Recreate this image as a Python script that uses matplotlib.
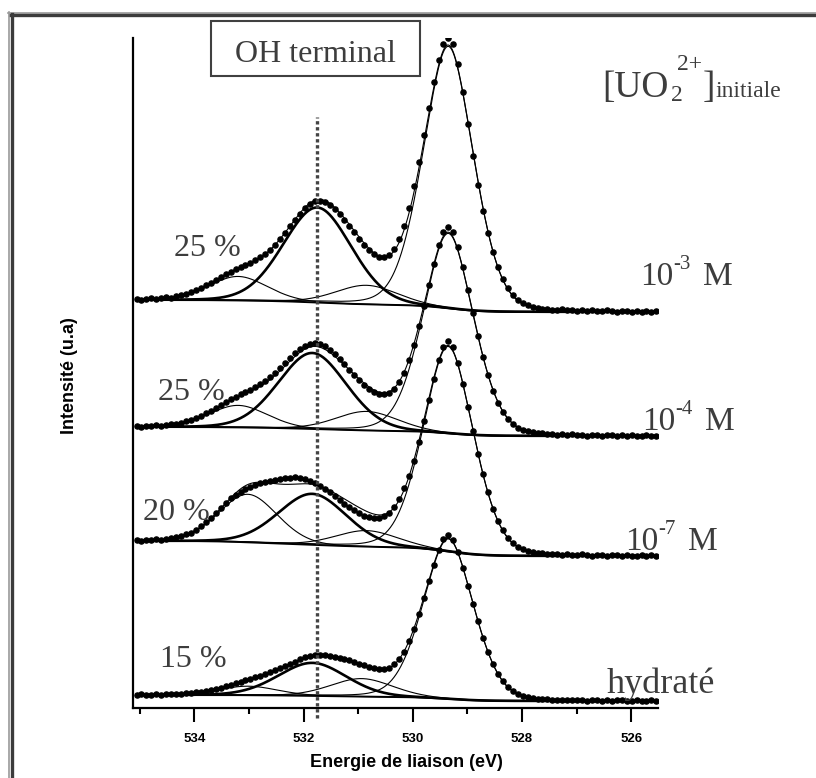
import numpy as np
import matplotlib

matplotlib.use("Agg")
import matplotlib.pyplot as plt
from matplotlib.lines import Line2D
from matplotlib.patches import Rectangle

W, H = 816, 778
SERIF = "Liberation Serif"
SANS = "Liberation Sans"
TEXT_GREY = "#3d3d3d"

# O 1s spectra, from top to bottom: (mantissa, exponent, unit)
SAMPLES = [("10", "-3", "M"), ("10", "-4", "M"), ("10", "-7", "M"), ("hydraté", "", "")]
OH_SHARE = ["25 %", "25 %", "20 %", "15 %"]

# binding energy of the measured points (eV)
ENERGY = np.linspace(535.06, 525.54, 106)

COUNTS_1E3 = [
    13, 12, 13, 14, 13, 14, 15, 14, 16, 17,
    18, 20, 22, 24, 27, 29, 32, 35, 38, 40,
    43, 45, 47, 49, 52, 55, 58, 62, 67, 73,
    79, 86, 92, 98, 104, 108, 111, 111, 110, 107,
    103, 98, 92, 86, 80, 73, 67, 62, 58, 55,
    55, 57, 63, 73, 86, 104, 126, 150, 177, 204,
    230, 252, 268, 274, 268, 248, 220, 188, 156, 127,
    101, 79, 60, 45, 33, 24, 17, 12, 9, 7,
    5, 4, 3, 3, 2, 2, 3, 2, 2, 1,
    2, 1, 2, 1, 1, 2, 1, 0, 1, 1,
    0, 1, 0, 1, 0, 1,
]
COUNTS_1E4 = [
    10, 9, 10, 10, 11, 10, 11, 12, 12, 13,
    15, 16, 18, 20, 23, 25, 28, 31, 34, 37,
    39, 42, 44, 46, 49, 52, 55, 59, 63, 68,
    73, 78, 83, 87, 90, 92, 93, 92, 90, 86,
    82, 77, 72, 66, 61, 56, 51, 47, 44, 42,
    42, 43, 47, 54, 63, 76, 91, 110, 130, 151,
    172, 191, 204, 209, 204, 189, 169, 146, 123, 100,
    79, 61, 45, 33, 24, 17, 12, 8, 6, 5,
    4, 3, 3, 2, 2, 1, 2, 1, 2, 1,
    1, 0, 1, 1, 0, 1, 1, 0, 1, 0,
    1, 0, 0, 1, 0, 0,
]
COUNTS_1E7 = [
    16, 15, 16, 16, 17, 16, 17, 18, 19, 20,
    22, 23, 26, 30, 34, 38, 43, 48, 53, 58,
    61, 64, 67, 69, 71, 73, 74, 75, 76, 77,
    78, 78, 79, 78, 77, 75, 73, 70, 67, 64,
    60, 56, 52, 49, 46, 43, 40, 39, 38, 38,
    40, 43, 49, 57, 68, 80, 95, 114, 135, 156,
    177, 196, 209, 215, 209, 193, 172, 149, 125, 102,
    82, 64, 47, 35, 26, 18, 13, 9, 7, 5,
    4, 3, 3, 2, 2, 2, 1, 2, 1, 1,
    2, 1, 0, 1, 1, 0, 1, 1, 0, 1,
    0, 0, 1, 0, 1, 0,
]
COUNTS_HYD = [
    6, 7, 6, 6, 7, 6, 7, 7, 7, 7,
    8, 8, 9, 9, 10, 11, 12, 13, 15, 16,
    18, 19, 21, 22, 24, 25, 27, 29, 31, 33,
    35, 37, 39, 42, 44, 45, 46, 46, 46, 45,
    44, 43, 42, 41, 39, 37, 36, 34, 33, 32,
    32, 33, 37, 42, 49, 60, 72, 87, 103, 120,
    136, 151, 162, 166, 161, 149, 133, 115, 97, 80,
    63, 49, 37, 27, 20, 14, 10, 7, 5, 4,
    3, 2, 2, 2, 1, 1, 1, 1, 1, 1,
    1, 0, 1, 1, 0, 1, 0, 1, 1, 0,
    0, 1, 0, 0, 1, 0,
]
COUNTS = [COUNTS_1E3, COUNTS_1E4, COUNTS_1E7, COUNTS_HYD]

# fitted components: (centre eV, height, fwhm eV)
LATTICE_O = [(529.35, 262, 1.133), (529.35, 200, 1.133),
             (529.35, 205, 1.133), (529.35, 160, 1.133)]
OH_TERMINAL = [(531.75, 95, 1.505), (531.84, 76, 1.505),
               (531.84, 51, 1.505), (531.84, 33, 1.505)]
HIGH_BE = [(533.20, 24, 1.287), (533.20, 22, 1.287),
           (533.02, 48, 1.287), (533.02, 9, 1.287)]
MID_BE = [(530.85, 19, 1.36), (530.85, 19, 1.36),
          (530.85, 16, 1.36), (530.94, 18, 1.36)]
BACKGROUND_STEP = [12, 9, 15, 6]
STACK_OFFSET = [396, 272, 152, 7]
OH_MARK = 531.75


def peak(e, centre, height, fwhm, mix=0.1):
    x = (e - centre) / fwhm
    gauss = np.exp(-4 * np.log(2) * x ** 2)
    lorentz = 1 / (1 + 7.7 * x ** 2)
    return height * ((1 - mix) * gauss + mix * lorentz)


def shirley(signal, step):
    area = np.cumsum(signal[::-1])[::-1]
    return step * area / area[0]


def put(x, y, s, size, **kw):
    # place text with pixel coordinates (y measured from the top)
    fig.text(x / W, 1 - y / H, s, fontsize=size, family=kw.pop("family", SERIF),
             color=kw.pop("color", TEXT_GREY), ha=kw.pop("ha", "left"),
             va=kw.pop("va", "baseline"), **kw)


fig = plt.figure(figsize=(W / 100, H / 100), dpi=100)
ax = fig.add_axes([133 / W, 1 - 708 / H, 525 / W, 670 / H])

fine = np.linspace(ENERGY[0], ENERGY[-1], 900)
for i in range(len(SAMPLES)):
    lattice = peak(fine, *LATTICE_O[i], mix=0.2)
    oh = peak(fine, *OH_TERMINAL[i])
    high = peak(fine, *HIGH_BE[i])
    mid = peak(fine, *MID_BE[i])
    total = lattice + oh + high + mid
    bg = STACK_OFFSET[i] + shirley(total, BACKGROUND_STEP[i])

    ax.plot(fine, bg, color="black", lw=1.4)
    for comp in (lattice, high, mid, total):
        ax.plot(fine, bg + comp, color="black", lw=0.8)
    ax.plot(fine, bg + oh, color="black", lw=1.9)
    ax.plot(ENERGY, STACK_OFFSET[i] + np.array(COUNTS[i]), "o",
            color="black", ms=3.7, mec="black", zorder=3)

ax.axvline(OH_MARK, ymin=-0.015, ymax=0.882, color="#444444", lw=2.4,
           linestyle=(0, (1, 0.8)), clip_on=False, zorder=4)

ax.set_xlim(535.125, 525.51)
ax.set_ylim(0, 670)
ax.set_xticks([534, 532, 530, 528, 526])
ax.set_xticks([535, 533, 531, 529, 527], minor=True)
ax.set_yticks([])
for side in ("top", "right"):
    ax.spines[side].set_visible(False)
for side in ("left", "bottom"):
    ax.spines[side].set_linewidth(1.6)
ax.tick_params(axis="x", which="major", direction="out", length=10,
               width=1.5, pad=8, labelsize=9.5)
ax.tick_params(axis="x", which="minor", direction="out", length=4.5,
               width=1.5)
for lab in ax.get_xticklabels():
    lab.set_fontfamily(SANS)
    lab.set_fontweight("bold")

put(406, 767, "Energie de liaison (eV)", 13, ha="center", family=SANS,
    color="black", fontweight="bold")
put(70, 376, "Intensité (u.a)", 13, ha="center", va="center", family=SANS,
    color="black", fontweight="bold", rotation=90)

# OH terminal box
fig.add_artist(Rectangle((211 / W, 1 - 76 / H), 209 / W, 55 / H,
                         transform=fig.transFigure, fill=False,
                         edgecolor="#404040", lw=1.5))
put(315.5, 62, "OH terminal", 23, ha="center")

# [UO2 2+] initiale
put(602, 97, "[UO", 27)
put(671, 101, "2", 17)
put(677, 70, "2+", 17)
put(703, 97, "]", 27)
put(715, 97, "initiale", 17)

sample_pos = [(640, 285), (642, 430), (625, 550), (607, 693)]
share_pos = [(174, 256), (158, 400), (143, 520), (160, 667)]
for i, (base, expo, unit) in enumerate(SAMPLES):
    x, y = sample_pos[i]
    if expo:
        put(x, y, base, 24)
        put(x + 33, y - 16, expo, 15)
        put(x + 63, y, unit, 24)
    else:
        put(x, y, base, 26)
    put(*share_pos[i], OH_SHARE[i], 23)

# page frame
fig.add_artist(Line2D([8 / W, 1], [1 - 12.5 / H] * 2, color="#9a9a9a", lw=1.2,
                      transform=fig.transFigure))
fig.add_artist(Line2D([10 / W, 1], [1 - 15 / H] * 2, color="#3c3c3c", lw=2.4,
                      transform=fig.transFigure))
fig.add_artist(Line2D([8.8 / W] * 2, [0, 1 - 12 / H], color="#9a9a9a", lw=1.2,
                      transform=fig.transFigure))
fig.add_artist(Line2D([11.6 / W] * 2, [0, 1 - 14 / H], color="#3c3c3c", lw=2.4,
                      transform=fig.transFigure))

fig.savefig("out.png", dpi=100)
